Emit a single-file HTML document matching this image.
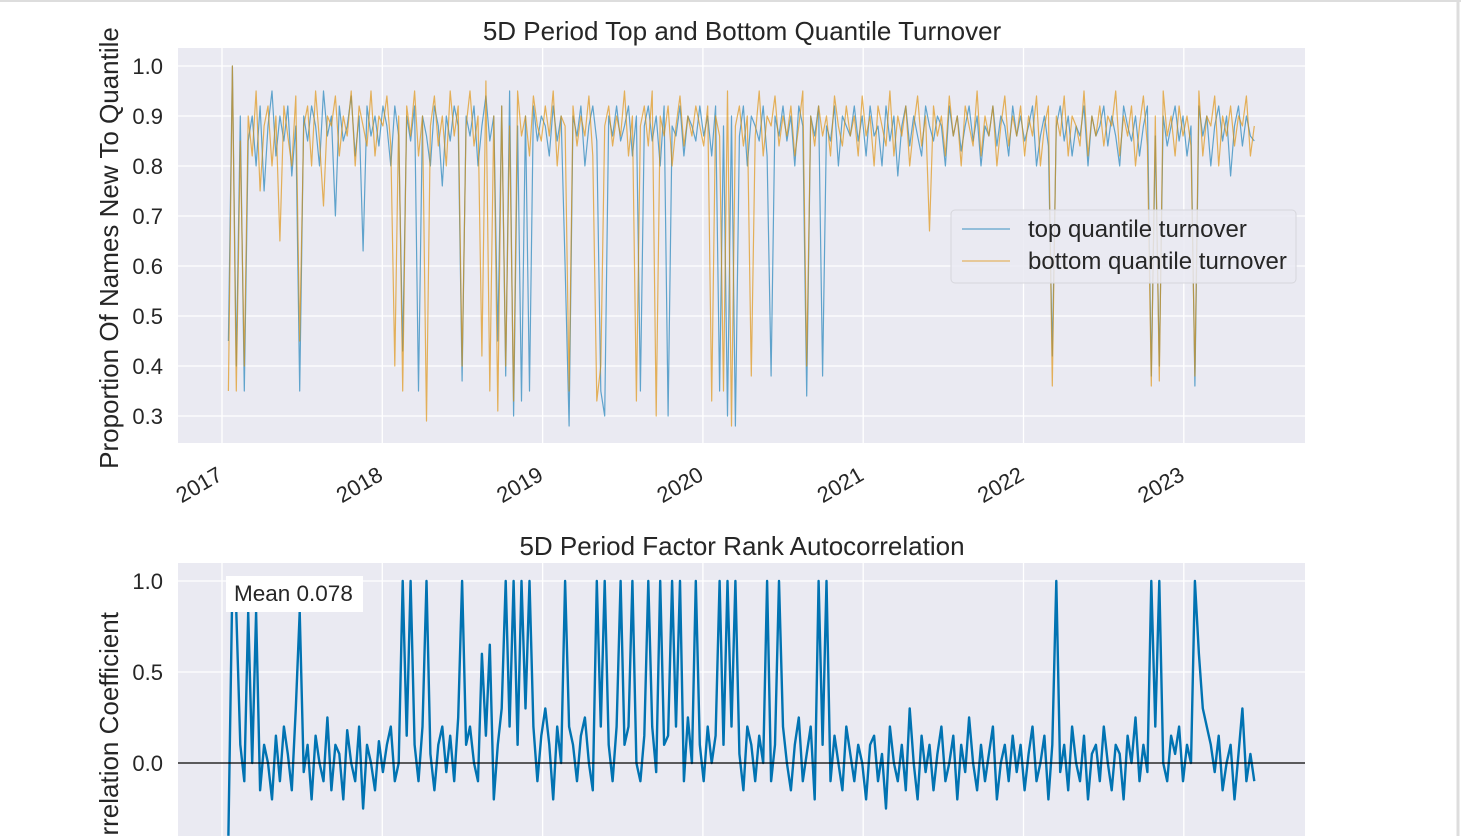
<!DOCTYPE html>
<html><head><meta charset="utf-8"><style>
html,body{margin:0;padding:0;background:#fff;overflow:hidden;width:1461px;height:836px}
svg{display:block;font-family:"Liberation Sans",sans-serif;overflow:hidden}
</style></head><body>
<svg id="fig" width="1461" height="836" viewBox="0 0 1461 836" xmlns="http://www.w3.org/2000/svg">
<rect x="0" y="0" width="1461" height="836" fill="#fff"/>
<line x1="0" y1="1" x2="1461" y2="1" stroke="#ddd" stroke-width="2"/>
<line x1="1458" y1="0" x2="1458" y2="836" stroke="#ddd" stroke-width="3"/>
<clipPath id="botclip"><rect x="0" y="0" width="1461" height="836"/></clipPath>
<g id="top"></g>
<g id="bot" clip-path="url(#botclip)"></g>
</svg>
<script>
const yearTicks = [2017,2018,2019,2020,2021,2022,2023];
const turnoverTicks = [0.3,0.4,0.5,0.6,0.7,0.8,0.9,1.0];
const autoTicks = [0.0,0.5,1.0];
const startYear = 2017.04, endYear = 2023.44;
const topTurnover = [
0.45,1.0,0.4,0.9,0.35,0.85,0.9,0.8,0.92,0.75,0.88,0.95,0.82,0.9,0.85,0.92,0.78,0.88,0.35,0.9,
0.85,0.92,0.88,0.8,0.95,0.86,0.9,0.7,0.92,0.85,0.88,0.94,0.82,0.9,0.63,0.92,0.86,0.9,0.84,0.92,
0.88,0.8,0.92,0.86,0.43,0.9,0.85,0.92,0.35,0.9,0.86,0.8,0.92,0.88,0.76,0.9,0.85,0.92,0.88,0.37,
0.9,0.86,0.92,0.8,0.88,0.94,0.85,0.9,0.45,0.92,0.38,0.95,0.3,0.88,0.33,0.9,0.35,0.92,0.85,0.9,
0.88,0.82,0.92,0.85,0.9,0.6,0.28,0.9,0.86,0.92,0.8,0.88,0.92,0.85,0.35,0.3,0.9,0.86,0.92,0.85,
0.88,0.92,0.82,0.9,0.35,0.88,0.92,0.85,0.9,0.8,0.92,0.3,0.88,0.86,0.92,0.82,0.9,0.88,0.85,0.92,
0.86,0.9,0.82,0.92,0.35,0.88,0.3,0.9,0.28,0.86,0.92,0.8,0.9,0.88,0.85,0.92,0.82,0.38,0.9,0.86,
0.92,0.85,0.9,0.8,0.92,0.88,0.34,0.9,0.86,0.92,0.38,0.88,0.85,0.92,0.8,0.9,0.88,0.86,0.92,0.85,
0.9,0.82,0.92,0.86,0.88,0.8,0.92,0.85,0.9,0.78,0.88,0.92,0.84,0.9,0.86,0.82,0.92,0.88,0.85,0.9,
0.88,0.8,0.92,0.86,0.9,0.83,0.88,0.92,0.85,0.9,0.8,0.88,0.86,0.92,0.84,0.9,0.88,0.82,0.92,0.86,
0.9,0.85,0.88,0.92,0.8,0.86,0.9,0.84,0.42,0.88,0.92,0.85,0.9,0.82,0.88,0.86,0.92,0.8,0.9,0.86,
0.88,0.92,0.84,0.9,0.86,0.8,0.92,0.88,0.85,0.9,0.82,0.88,0.92,0.38,0.86,0.4,0.9,0.84,0.88,0.92,
0.85,0.9,0.82,0.88,0.36,0.92,0.86,0.9,0.8,0.88,0.92,0.85,0.9,0.78,0.88,0.92,0.84,0.9,0.86,0.85];
const bottomTurnover = [
0.35,1.0,0.35,0.85,0.4,0.9,0.82,0.95,0.75,0.88,0.92,0.8,0.9,0.65,0.92,0.86,0.8,0.94,0.45,0.88,
0.92,0.8,0.95,0.85,0.72,0.9,0.88,0.94,0.82,0.9,0.86,0.95,0.8,0.92,0.88,0.84,0.95,0.82,0.9,0.88,
0.94,0.84,0.4,0.9,0.35,0.92,0.86,0.95,0.82,0.9,0.29,0.88,0.94,0.84,0.9,0.8,0.95,0.86,0.92,0.4,
0.88,0.95,0.84,0.9,0.42,0.97,0.35,0.9,0.31,0.92,0.4,0.88,0.33,0.95,0.86,0.9,0.82,0.94,0.88,0.85,
0.92,0.86,0.95,0.8,0.9,0.88,0.35,0.92,0.84,0.9,0.86,0.94,0.82,0.33,0.4,0.88,0.92,0.84,0.9,0.86,
0.95,0.82,0.9,0.33,0.88,0.92,0.84,0.95,0.3,0.9,0.86,0.92,0.8,0.88,0.94,0.84,0.9,0.86,0.92,0.88,
0.84,0.92,0.33,0.9,0.86,0.35,0.95,0.28,0.88,0.92,0.84,0.9,0.38,0.86,0.95,0.82,0.9,0.88,0.94,0.84,
0.9,0.86,0.92,0.82,0.88,0.95,0.4,0.9,0.84,0.92,0.86,0.9,0.82,0.94,0.88,0.84,0.92,0.86,0.9,0.82,
0.94,0.86,0.9,0.8,0.92,0.88,0.84,0.95,0.82,0.9,0.86,0.92,0.8,0.88,0.94,0.84,0.9,0.67,0.92,0.86,
0.9,0.82,0.94,0.86,0.9,0.8,0.92,0.88,0.84,0.95,0.82,0.9,0.86,0.92,0.8,0.88,0.94,0.84,0.9,0.86,
0.92,0.82,0.9,0.86,0.94,0.8,0.88,0.92,0.36,0.9,0.86,0.94,0.82,0.9,0.88,0.84,0.95,0.82,0.9,0.86,
0.92,0.84,0.9,0.88,0.95,0.82,0.9,0.86,0.92,0.8,0.88,0.94,0.84,0.36,0.9,0.37,0.95,0.86,0.9,0.82,
0.92,0.86,0.9,0.84,0.38,0.95,0.82,0.9,0.88,0.94,0.8,0.9,0.86,0.92,0.84,0.9,0.88,0.94,0.82,0.88];
const autocorr = [
-0.4,1.0,0.83,0.1,-0.1,0.83,0.0,0.83,-0.15,0.1,0.0,-0.2,0.15,-0.1,0.2,0.05,-0.15,0.3,0.83,-0.05,
0.1,-0.2,0.15,0.0,-0.1,0.25,-0.15,0.1,0.05,-0.2,0.18,0.0,-0.1,0.2,-0.25,0.1,0.0,-0.15,0.12,-0.05,
0.1,0.2,-0.1,0.0,1.0,0.15,1.0,0.1,-0.1,0.2,1.0,0.05,-0.15,0.1,0.2,-0.05,0.15,-0.1,0.25,1.0,
0.1,0.2,0.0,-0.1,0.6,0.15,0.65,-0.2,0.1,0.3,1.0,0.2,1.0,0.1,1.0,0.3,1.0,0.2,-0.1,0.15,
0.3,0.1,-0.2,0.2,0.0,1.0,0.2,0.1,-0.1,0.15,0.25,0.0,-0.15,1.0,0.2,1.0,0.1,-0.1,0.2,1.0,
0.1,0.2,1.0,0.0,-0.1,0.15,1.0,0.2,-0.05,1.0,0.1,0.15,1.0,0.2,1.0,-0.1,0.25,0.0,1.0,0.1,
-0.1,0.2,0.0,0.15,1.0,0.1,1.0,0.2,1.0,0.05,-0.15,0.2,0.1,-0.1,0.15,0.0,1.0,-0.1,0.1,1.0,
0.2,0.0,-0.15,0.1,0.25,-0.1,0.05,0.2,-0.2,1.0,0.1,1.0,-0.1,0.15,0.0,-0.15,0.2,0.05,-0.1,0.1,
0.0,-0.2,0.1,0.15,-0.1,0.05,-0.25,0.2,0.0,-0.1,0.1,-0.15,0.3,0.0,-0.2,0.15,-0.05,0.1,-0.15,0.05,
0.2,-0.1,0.0,0.15,-0.2,0.1,-0.05,0.25,0.0,-0.15,0.1,-0.1,0.05,0.2,-0.2,0.0,0.1,-0.1,0.15,-0.05,
0.1,-0.15,0.05,0.2,-0.1,0.0,0.15,-0.2,0.1,1.0,-0.05,0.1,-0.15,0.2,0.0,-0.1,0.15,-0.2,0.05,0.1,
-0.1,0.2,0.0,-0.15,0.1,0.05,-0.2,0.15,0.0,0.25,-0.1,0.1,-0.05,1.0,0.2,1.0,0.0,-0.1,0.15,0.05,
0.2,-0.1,0.1,0.0,1.0,0.6,0.3,0.2,0.1,-0.05,0.15,-0.15,0.0,0.1,-0.2,0.05,0.3,-0.1,0.05,-0.1];
const meanLabel = "Mean 0.078";

const NS="http://www.w3.org/2000/svg";
function mk(tag, parent, attrs){const e=document.createElementNS(NS,tag);for(const k in attrs)e.setAttribute(k,attrs[k]);parent.appendChild(e);return e;}
const X0=178,X1=1305;
const xs = yr => 222 + (yr-2017)*160.3;
const yTop = v => 66 + (1.0-v)*500;
const yBot = v => 763 - v*182;
const xi = (i,n) => xs(startYear + (endYear-startYear)*i/(n-1));

// ---- top chart
const T=document.getElementById('top');
let r=mk('rect',T,{x:X0,y:48,width:X1-X0,height:395,fill:'#eaeaf2'});


yearTicks.forEach(y=>{let l=mk('line',T,{x1:xs(y),x2:xs(y),y1:48,y2:443,stroke:'#fff','stroke-width':1.3});


let t=mk('text',T,{x:0,y:0,'font-size':22,fill:'#262626','text-anchor':'end',transform:`translate(${xs(y)+2},${479}) rotate(-30)`});t.textContent=y;

});
turnoverTicks.forEach(v=>{let l=mk('line',T,{x1:X0,x2:X1,y1:yTop(v),y2:yTop(v),stroke:'#fff','stroke-width':1.3});


let t=mk('text',T,{x:163,y:yTop(v)+8,'font-size':22,fill:'#262626','text-anchor':'end'});t.textContent=v.toFixed(1);

});
function line(parent,arr,yf,color,w,op,name){const d=arr.map((v,i)=>(i?'L':'M')+xi(i,arr.length).toFixed(1)+','+Math.min(yf(v),900).toFixed(1)).join('');
const p=mk('path',parent,{d:d,fill:'none',stroke:color,'stroke-width':w,'stroke-opacity':op,'stroke-linejoin':'round'});

}
line(T,topTurnover,yTop,'#0173b2',1.2,0.6,'top-quantile-line');
line(T,bottomTurnover,yTop,'#de8f05',1.2,0.65,'bottom-quantile-line');
let tt=mk('text',T,{x:742,y:40,'font-size':26,fill:'#262626','text-anchor':'middle'});tt.textContent='5D Period Top and Bottom Quantile Turnover';


let yl=mk('text',T,{x:0,y:0,'font-size':26,fill:'#262626','text-anchor':'middle',transform:'translate(118,248) rotate(-90)'});yl.textContent='Proportion Of Names New To Quantile';


const lg=mk('g',T,{});


mk('rect',lg,{x:951,y:210,width:345,height:73,rx:4,fill:'#eaeaf2','fill-opacity':0.85,stroke:'#d6d6dc'});
[['top quantile turnover','#0173b2',229],['bottom quantile turnover','#de8f05',261]].forEach(e=>{
const g=mk('g',lg,{});


mk('line',g,{x1:962,x2:1010,y1:e[2],y2:e[2],stroke:e[1],'stroke-width':1.3,'stroke-opacity':0.6});
const t=mk('text',g,{x:1028,y:e[2]+8,'font-size':24,fill:'#262626'});t.textContent=e[0];});

// ---- bottom chart
const B=document.getElementById('bot');
r=mk('rect',B,{x:X0,y:563,width:X1-X0,height:273,fill:'#eaeaf2'});


yearTicks.forEach(y=>{let l=mk('line',B,{x1:xs(y),x2:xs(y),y1:563,y2:836,stroke:'#fff','stroke-width':1.3});

});
autoTicks.forEach(v=>{let l=mk('line',B,{x1:X0,x2:X1,y1:yBot(v),y2:yBot(v),stroke:'#fff','stroke-width':1.3});


let t=mk('text',B,{x:163,y:yBot(v)+8,'font-size':22,fill:'#262626','text-anchor':'end'});t.textContent=v.toFixed(1);

});
line(B,autocorr,yBot,'#0173b2',2.4,1,'autocorrelation-line');
let zl=mk('line',B,{x1:X0,x2:X1,y1:yBot(0),y2:yBot(0),stroke:'#000','stroke-width':1.2});


const mb=mk('g',B,{});


mk('rect',mb,{x:226,y:576,width:137,height:36,fill:'#fff'});
let mt=mk('text',mb,{x:234,y:601,'font-size':22.5,fill:'#262626'});mt.textContent=meanLabel;
let bt=mk('text',B,{x:742,y:555,'font-size':26,fill:'#262626','text-anchor':'middle'});bt.textContent='5D Period Factor Rank Autocorrelation';


let byl=mk('text',B,{x:0,y:0,'font-size':26,fill:'#262626','text-anchor':'end',transform:'translate(118,612) rotate(-90)'});byl.textContent='Autocorrelation Coefficient';


</script>
</body></html>
